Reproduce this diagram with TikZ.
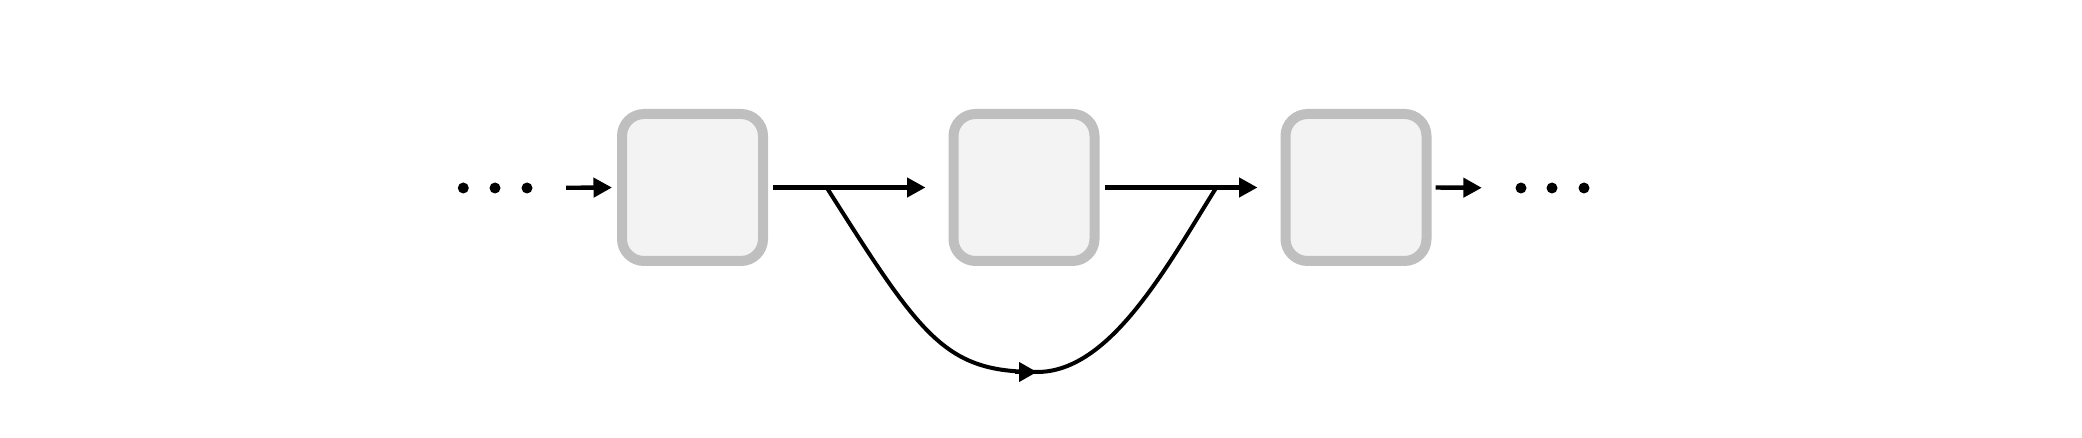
\documentclass[tikz,border=0pt]{standalone}
\usetikzlibrary{arrows.meta}
\definecolor{boxfill}{HTML}{F3F3F3}
\definecolor{boxline}{HTML}{BFBFBF}
\tikzset{
  blockbox/.style={draw=boxline, fill=boxfill, line width=10pt, rounded corners=22pt,
    minimum width=141pt, minimum height=147pt, inner sep=0pt},
  dotnode/.style={circle, fill=black, minimum size=11pt, inner sep=0pt},
  arr/.style={line width=4.4pt, -{Triangle[length=18.5pt,width=19pt]}},
  curvearr/.style={line width=4pt}
}
\begin{document}
\begin{tikzpicture}[x=1pt,y=-1pt]
\useasboundingbox (0,0) rectangle (2082,438);
\node[dotnode] (dl1) at (463.3,188) {};
\node[dotnode] (dl2) at (495,188) {};
\node[dotnode] (dl3) at (527,188) {};
\node[blockbox] (b1) at (692.5,187.5) {};
\node[blockbox] (b2) at (1024,187.5) {};
\node[blockbox] (b3) at (1356,187.5) {};
\node[dotnode] (dr1) at (1521,188) {};
\node[dotnode] (dr2) at (1552,188) {};
\node[dotnode] (dr3) at (1584,188) {};
\coordinate (j1) at (827,188);
\coordinate (bot) at (1037,372);
\coordinate (j2) at (1216,188);
\draw[arr, shorten <=33.5pt, shorten >=5pt] (dl3) -- (b1.west);
\draw[arr, shorten <=5pt, shorten >=23pt] (b1.east) -- (b2.west);
\draw[arr, shorten <=5pt, shorten >=23pt] (b2.east) -- (b3.west);
\draw[arr, shorten <=4pt, shorten >=33.5pt] (b3.east) -- (dr1);
\draw[curvearr] (j1) .. controls (922,338) and (945,372) .. (bot);
\draw[curvearr] (bot) .. controls (1110,372) and (1166,268) .. (j2);
\draw[curvearr, -{Triangle[length=18pt,width=19pt]}] (1015,372) -- (bot);
\end{tikzpicture}
\end{document}
